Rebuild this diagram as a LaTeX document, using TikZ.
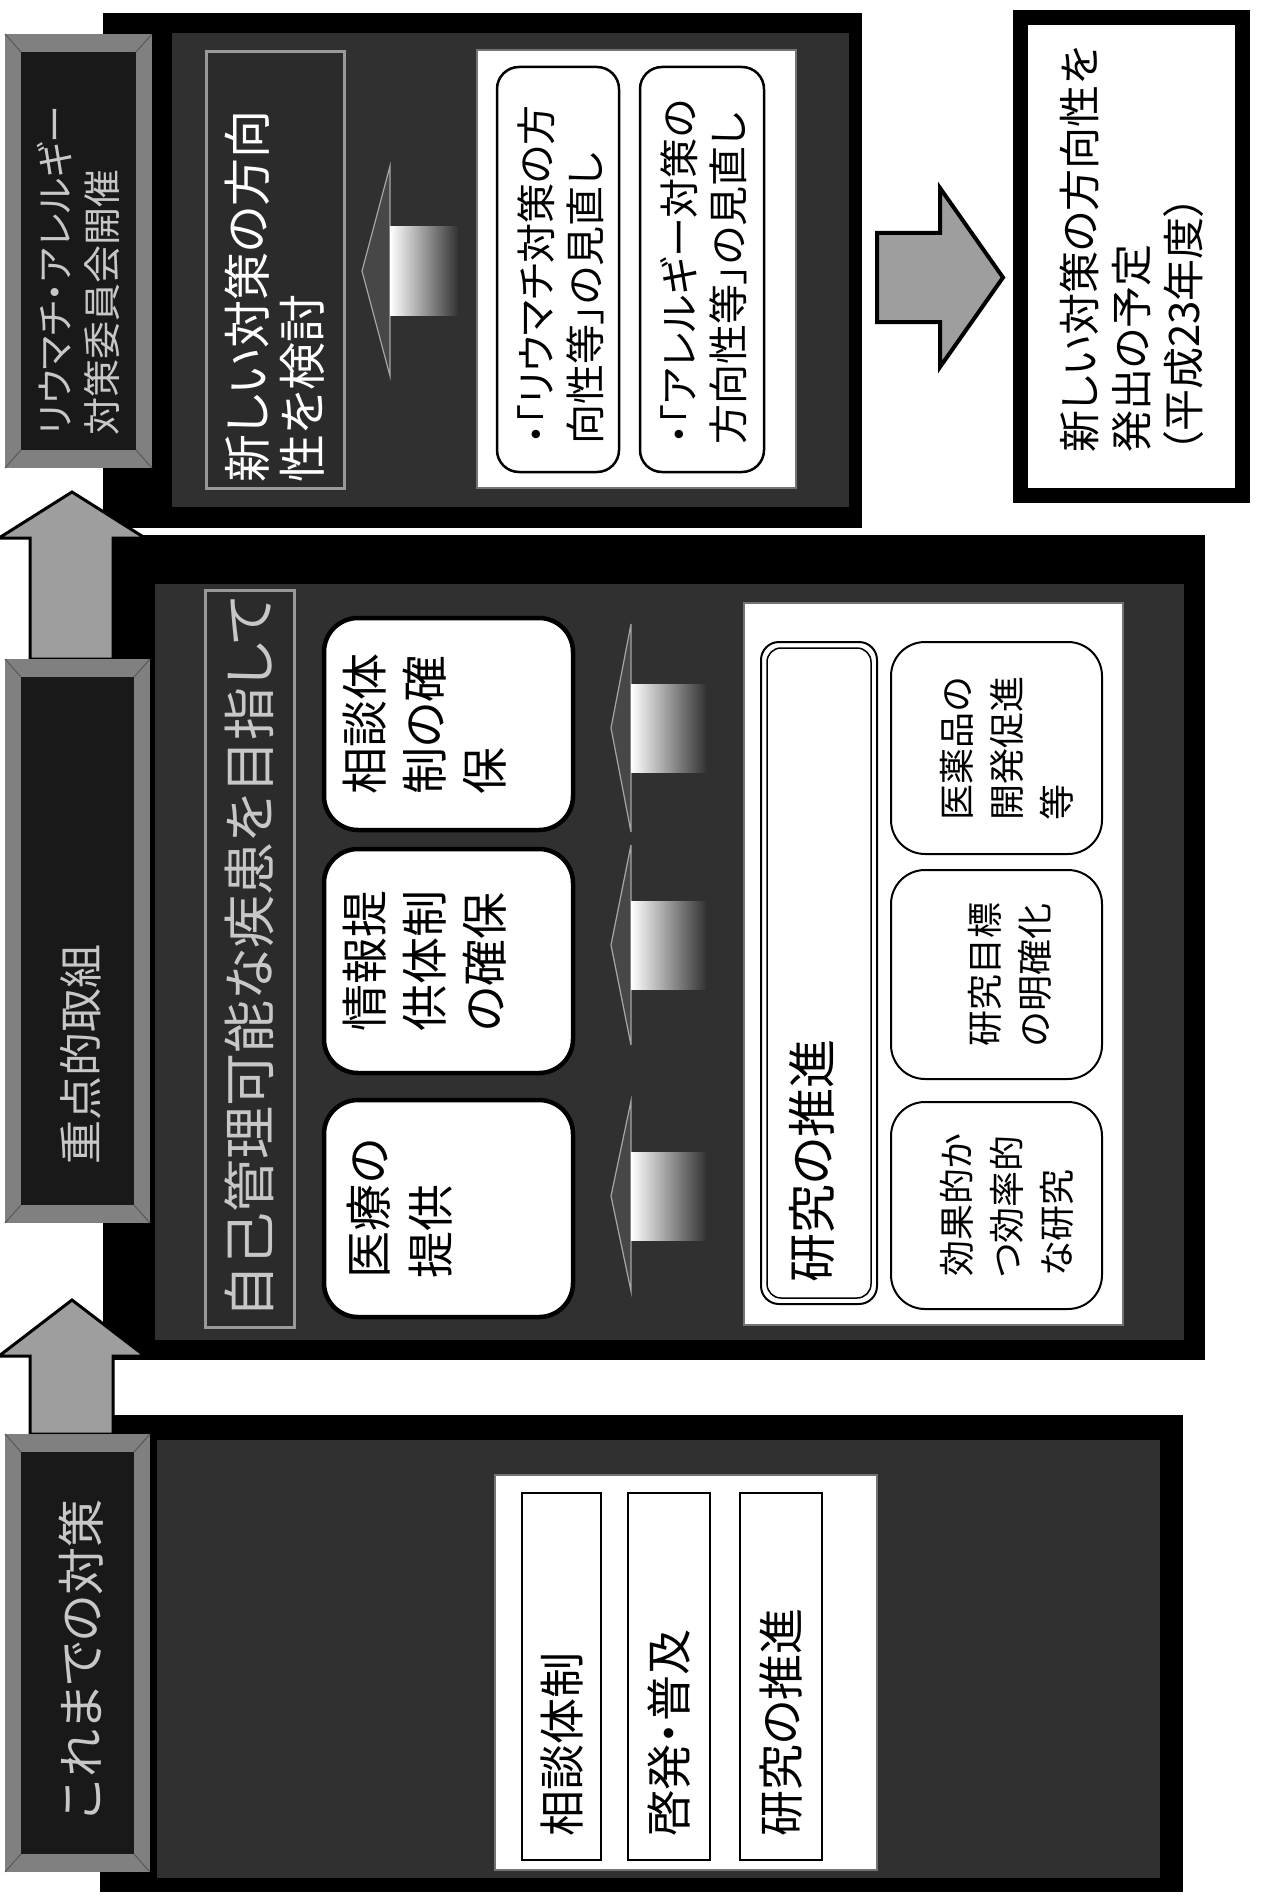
\documentclass[tikz,border=0pt]{standalone}
\usepackage{fontspec}
\newfontfamily\jp[RawFeature=+palt]{Noto Sans CJK JP}
\newcommand\myfs[2]{\fontsize{#1}{#2}\selectfont}
\newcommand\mytab[4]{%
  \fill[tabface] (#1,#2) rectangle (#3,#4);
  \fill[tabin] (#1+16,#2+18) rectangle (#3-16,#4-18);
  \draw[tabedge] (#1,#2) -- (#1+16,#2+18) (#3,#2) -- (#3-16,#2+18)
     (#1,#4) -- (#1+16,#4-18) (#3,#4) -- (#3-16,#4-18);}
\newcommand\myinarrow[5]{% apex x, head base x, shaft end x, centre y, head half
  \fill[innerhead] (#1,#4) -- (#2,#4-#5) -- (#2,#4+#5) -- cycle;
  \shade[left color=white, middle color=white, right color=black!80]
     (#2,#4-44) rectangle (#3,#4+44);}
\begin{document}
\begin{tikzpicture}[x=1pt,y=-1pt,
  interior/.style={fill=black!81},
  tabface/.style={fill=black!50},
  tabin/.style={fill=black!90},
  tabedge/.style={draw=black!65, line width=1pt},
  txt/.style={rotate=90, inner sep=0pt, align=left},
  whitearea/.style={fill=white, draw=black!55, line width=2.5pt},
  titleband/.style={fill=black!83, draw=black!40, line width=3pt},
  smallrbox/.style={fill=white, draw=black, line width=2.5pt, rounded corners=22pt},
  bigrbox/.style={fill=white, draw=black, line width=4.5pt, rounded corners=34pt},
  plainbox/.style={fill=white, draw=black, line width=2.5pt},
  blockarrow/.style={fill=black!38, draw=black, line width=3pt, line join=miter},
  innerhead/.style={fill=black!72, draw=black!35, line width=1.2pt}]
\useasboundingbox (0,0) rectangle (1265,1902);
\fill[white] (0,0) rectangle (1265,1902);

% ---------- panels ----------
\fill[black] (103,13) rectangle (862,528);
\fill[interior] (172,33) rectangle (849,507);
\fill[black] (103,535) rectangle (1205,1360);
\fill[interior] (155,584) rectangle (1184,1340);
\fill[black] (100,1415) rectangle (1183,1892);
\fill[interior] (157,1440) rectangle (1160,1878);

% ---------- up arrows between tabs ----------
\draw[blockarrow] (72,492) -- (145,538) -- (113,538) -- (113,659) -- (30,659) -- (30,538) -- (-1,538) -- cycle;
\draw[blockarrow] (72,1300) -- (145,1356) -- (113,1356) -- (113,1434) -- (30,1434) -- (30,1356) -- (-1,1356) -- cycle;

% ---------- header tabs ----------
\mytab{5}{34}{152}{468}
\mytab{5}{659}{150}{1223}
\mytab{5}{1434}{150}{1872}
\node[txt, anchor=west, text=black!22, font={\jp\myfs{38}{47}}] (h1t) at (78,436) {リウマチ・アレルギー\\対策委員会開催};
\node[txt, anchor=west, text=black!22, font={\jp\myfs{44}{50}}] (h2t) at (81,1165) {重点的取組};
\node[txt, anchor=west, text=black!22, font={\jp\myfs{48}{50}}] (h3t) at (81,1820) {これまでの対策};

% ---------- top panel ----------
\draw[titleband] (206,52) rectangle (344,488);
\node[txt, anchor=west, text=white, font={\jp\myfs{48}{55}}] (p1tt) at (274.5,483) {新しい対策の方向\\性を検討};
\myinarrow{362}{390}{458}{271}{105}
\draw[whitearea] (477,50) rectangle (796,488);
\draw[smallrbox] (497,67) rectangle (619,472);
\draw[smallrbox] (640,67) rectangle (764,472);
\node[txt, anchor=west, font={\jp\myfs{40}{49}}] (p1b1) at (560.5,445) {・「リウマチ対策の方\\向性等」の見直し};
\node[txt, anchor=west, font={\jp\myfs{40}{49}}] (p1b2) at (704,445) {・「アレルギー対策の\\方向性等」の見直し};

% ---------- big arrow and result box ----------
\draw[blockarrow, line width=4pt] (877,233) -- (940,233) -- (940,188) -- (1003,277.5) -- (940,367) -- (940,322) -- (877,322) -- cycle;
\draw[black, line width=15pt, fill=white] (1020.5,17.5) rectangle (1242.5,495.5);
\node[txt, anchor=west, font={\jp\myfs{42}{52}}] (rbt) at (1131.5,453) {新しい対策の方向性を\\発出の予定\\（平成23年度）};

% ---------- middle panel ----------
\draw[titleband] (205,590) rectangle (294,1327);
\node[txt, anchor=west, text=black!22, font={\jp\myfs{53}{55}}] (p2tt) at (249,1319) {自己管理可能な疾患を目指して};
\draw[bigrbox] (324,1100) rectangle (573,1317);
\draw[bigrbox] (324,849) rectangle (573,1073);
\draw[bigrbox] (324,618) rectangle (573,830);
\node[txt, anchor=center, font={\jp\myfs{47}{62}}] (p2a) at (399.5,1208.5) {医療の\\提供};
\node[txt, anchor=center, font={\jp\myfs{47}{60}}] (p2b) at (425,961) {情報提\\供体制\\の確保};
\node[txt, anchor=center, font={\jp\myfs{47}{60}}] (p2c) at (425,724) {相談体\\制の確\\保};
\myinarrow{611}{631}{706}{1196}{95}
\myinarrow{611}{631}{706}{945}{100}
\myinarrow{611}{631}{706}{728}{104}
\draw[whitearea] (744,603) rectangle (1123,1325);
\draw[black, line width=2pt, fill=white, rounded corners=18pt] (761,642) rectangle (877,1304);
\draw[black, line width=1.5pt, rounded corners=14pt] (767,648) rectangle (871,1298);
\node[txt, anchor=west, font={\jp\myfs{49}{50}}] (rest) at (812,1283) {研究の推進};
\draw[smallrbox, rounded corners=34pt, line width=2pt] (891,1102) rectangle (1102,1309);
\draw[smallrbox, rounded corners=34pt, line width=2pt] (891,870) rectangle (1102,1079);
\draw[smallrbox, rounded corners=34pt, line width=2pt] (891,642) rectangle (1102,854);
\node[txt, anchor=center, font={\jp\myfs{36}{50}}] (s1) at (1007,1205.5) {効果的か\\つ効率的\\な研究};
\node[txt, anchor=center, font={\jp\myfs{36}{50}}] (s2) at (1010,974.5) {研究目標\\の明確化};
\node[txt, anchor=center, font={\jp\myfs{36}{50}}] (s3) at (1007,748) {医薬品の\\開発促進\\等};

% ---------- bottom panel ----------
\draw[whitearea] (495,1475) rectangle (877,1870);
\draw[plainbox] (522,1493) rectangle (601,1860);
\draw[plainbox] (628,1493) rectangle (710,1860);
\draw[plainbox] (740,1493) rectangle (822,1860);
\node[txt, anchor=west, font={\jp\myfs{46}{50}}] (p3a) at (562,1837) {相談体制};
\node[txt, anchor=west, font={\jp\myfs{46}{50}}] (p3b) at (669,1837) {啓発・普及};
\node[txt, anchor=west, font={\jp\myfs{46}{50}}] (p3c) at (781,1837) {研究の推進};
\end{tikzpicture}
\end{document}
